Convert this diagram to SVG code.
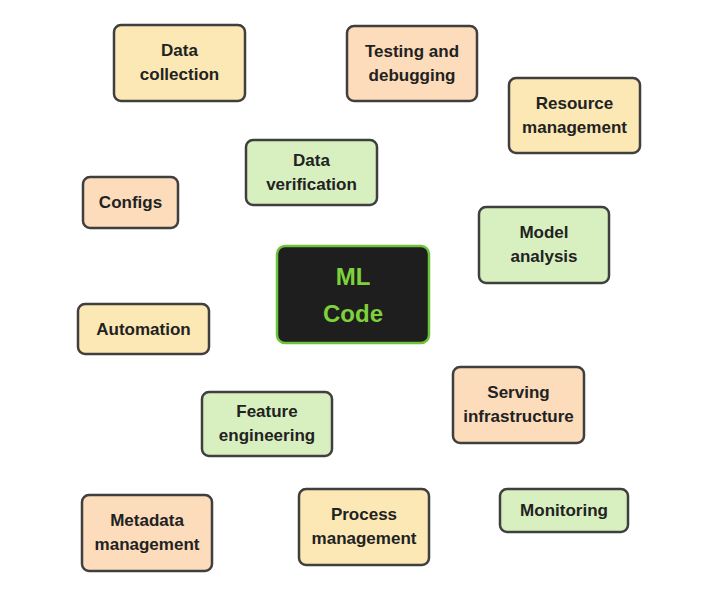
<svg xmlns="http://www.w3.org/2000/svg" width="716" height="593" viewBox="0 0 716 593">
<style>
rect.n{stroke:#3f3f3f;stroke-width:2.5}
.y{fill:#fce8b4}
.p{fill:#fcdcba}
.g{fill:#d8f0c0}
text{font-family:"Liberation Sans",Arial,sans-serif;font-weight:bold;font-size:17px;fill:#222;text-anchor:middle}
text.ml{font-size:24px;fill:#7fd13b}
</style>
<rect width="716" height="593" fill="#ffffff"/>
<g id="connectors"></g>
<g id="data-collection"><rect class="n y" x="114" y="25" width="131" height="76" rx="7"/><text x="179.5" y="56">Data</text><text x="179.5" y="80">collection</text></g>
<g id="testing"><rect class="n p" x="347" y="26" width="130" height="75" rx="7"/><text x="412" y="57">Testing and</text><text x="412" y="81">debugging</text></g>
<g id="resource"><rect class="n y" x="509" y="78" width="131" height="75" rx="7"/><text x="574.5" y="109">Resource</text><text x="574.5" y="133">management</text></g>
<g id="data-verification"><rect class="n g" x="246" y="140" width="131" height="65" rx="7"/><text x="311.5" y="166">Data</text><text x="311.5" y="190">verification</text></g>
<g id="configs"><rect class="n p" x="83" y="177" width="95" height="51" rx="7"/><text x="130.5" y="208">Configs</text></g>
<g id="model-analysis"><rect class="n g" x="479" y="207" width="130" height="76" rx="7"/><text x="544" y="238">Model</text><text x="544" y="262">analysis</text></g>
<g id="ml-code"><rect x="277" y="246" width="152" height="97" rx="8" fill="#1e1e1e" stroke="#6cc43a" stroke-width="2.5"/><text class="ml" x="353" y="285">ML</text><text class="ml" x="353" y="322">Code</text></g>
<g id="automation"><rect class="n y" x="78" y="304" width="131" height="50" rx="7"/><text x="143.5" y="335">Automation</text></g>
<g id="serving"><rect class="n p" x="453" y="367" width="131" height="76" rx="7"/><text x="518.5" y="398">Serving</text><text x="518.5" y="422">infrastructure</text></g>
<g id="feature"><rect class="n g" x="202" y="392" width="130" height="64" rx="7"/><text x="267" y="417">Feature</text><text x="267" y="441">engineering</text></g>
<g id="metadata"><rect class="n p" x="82" y="495" width="130" height="76" rx="7"/><text x="147" y="526">Metadata</text><text x="147" y="550">management</text></g>
<g id="process"><rect class="n y" x="299" y="489" width="130" height="76" rx="7"/><text x="364" y="520">Process</text><text x="364" y="544">management</text></g>
<g id="monitoring"><rect class="n g" x="500" y="489" width="128" height="43" rx="7"/><text x="564" y="516">Monitoring</text></g>
</svg>
